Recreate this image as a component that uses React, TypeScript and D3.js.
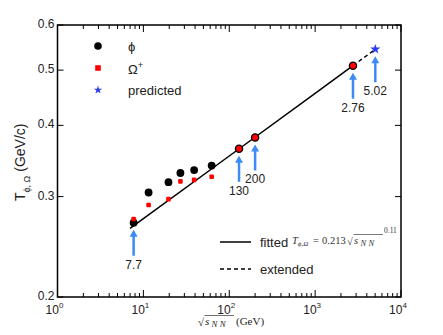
import * as d3 from 'd3';

const energies = [7.7, 11.5, 19.6, 27, 39, 62.4];
const phiT = [0.270, 0.305, 0.318, 0.330, 0.334, 0.340];
const omegaT = [0.274, 0.290, 0.297, 0.319, 0.321, 0.325];
const predE = [130, 200, 2760];
const predT = [0.364, 0.381, 0.509];
const starE = 5020;
const starT = 0.544;
const arrowE = [7.7, 130, 200, 2760, 5020];
const arrowT = [0.270, 0.364, 0.381, 0.509, 0.544];
const arrowLbl = ['7.7', '130', '200', '2.76', '5.02'];
const yTicks = [0.2, 0.3, 0.4, 0.5, 0.6];
const xTicks = [1, 10, 100, 1000, 10000];
const fitA = 0.213;
const fitB = 0.11;
const fitStart = 7.0;
const fitEnd = 2760;

const W = 443, H = 335;
const L = 57.5, R = 401, T = 25, B = 297;
const SANS = '"Liberation Sans", Arial, sans-serif';
const SERIF = '"Liberation Serif", "DejaVu Serif", serif';
const BLUE = '#3d8af7';

// √ s_NN written with a radical and an overline
function SqrtS({ x0, base, size, color }: { x0: number; base: number; size: number; color: string }) {
  const sub = size * 0.8;
  return (
    <g fill={color}>
      <text x={x0} y={base + 1} fontSize={size}>√</text>
      <line x1={x0 + 6.5} x2={x0 + 36} y1={base - 9.5} y2={base - 9.5} stroke={color} strokeWidth={0.65} />
      <text x={x0 + 7} y={base} fontSize={size} fontStyle="italic">s</text>
      <text x={x0 + 13.5} y={base + 2} fontSize={sub} fontStyle="italic" letterSpacing={2.5}>NN</text>
    </g>
  );
}

export default function App() {
  const x = d3.scaleLog().domain([1, 10000]).range([L, R]);
  const y = d3.scaleLog().domain([0.2, 0.6]).range([B, T]);
  const fit = (e: number) => fitA * Math.pow(e, fitB);
  const line = d3.line<number>().x(e => x(e)).y(e => y(fit(e)));

  const minor: number[] = [];
  for (let d = 1; d < 10000; d *= 10) for (let k = 2; k <= 9; k++) minor.push(d * k);

  const star = d3.symbol().type(d3.symbolStar).size(32)();
  const smallStar = d3.symbol().type(d3.symbolStar).size(22)();
  const arrowLen = 26;

  return (
    <svg width={W} height={H} style={{ position: 'absolute', left: 0, top: 0, background: '#fff' }}>
      {/* frame */}
      <rect x={L} y={T} width={R - L} height={B - T} fill="none" stroke="#000" strokeWidth={1.5} />
      {/* x ticks */}
      {xTicks.map(v => (
        <g key={'xt' + v}>
          <line x1={x(v)} x2={x(v)} y1={B} y2={B - 7} stroke="#000" />
          <line x1={x(v)} x2={x(v)} y1={T} y2={T + 7} stroke="#000" />
          <text x={x(v) - 3} y={B + 17} fontFamily={SANS} fontSize={12} textAnchor="middle" fill="#222">
            10<tspan dy={-6} fontSize={8}>{Math.round(Math.log10(v))}</tspan>
          </text>
        </g>
      ))}
      {minor.map(v => (
        <g key={'xm' + v}>
          <line x1={x(v)} x2={x(v)} y1={B} y2={B - 4} stroke="#000" />
          <line x1={x(v)} x2={x(v)} y1={T} y2={T + 4} stroke="#000" />
        </g>
      ))}
      {/* y ticks */}
      {yTicks.map(v => (
        <g key={'yt' + v}>
          <line x1={L} x2={L + 6} y1={y(v)} y2={y(v)} stroke="#000" />
          <line x1={R} x2={R - 6} y1={y(v)} y2={y(v)} stroke="#000" />
          <text x={L - 3} y={y(v) + 3} fontFamily={SANS} fontSize={12} textAnchor="end" fill="#222">{v.toFixed(1)}</text>
        </g>
      ))}
      {/* axis titles */}
      <text transform={`translate(25,${(T + B) / 2 + 40}) rotate(-90)`} fontFamily={SANS} fontSize={14} fill="#222">
        T<tspan dy={5} fontSize={9}>ϕ, Ω</tspan><tspan dy={-5}> (GeV/c)</tspan>
      </text>
      <g fontFamily={SERIF}>
        <SqrtS x0={198} base={325} size={11} color="#222" />
        <text x={236} y={325} fontSize={11} fill="#222">(GeV)</text>
      </g>
      {/* fit line */}
      <path d={line([fitStart, 10, 100, 1000, fitEnd]) || ''} fill="none" stroke="#000" strokeWidth={1.5} />
      <path d={line([fitEnd, starE]) || ''} fill="none" stroke="#000" strokeWidth={1.5} strokeDasharray="4,3" />
      {/* data */}
      {energies.map((e, i) => (
        <g key={'d' + e}>
          <circle cx={x(e)} cy={y(phiT[i])} r={3.9} fill="#000" />
          <rect x={x(e) - 2.3} y={y(omegaT[i]) - 2.3} width={4.6} height={4.6} rx={1} fill="#f00" />
        </g>
      ))}
      {predE.map((e, i) => (
        <circle key={'p' + e} cx={x(e)} cy={y(predT[i])} r={3.6} fill="#f00" stroke="#000" strokeWidth={1.3} />
      ))}
      <path d={star || ''} transform={`translate(${x(starE)},${y(starT)})`} fill="#2a3cf0" />
      {/* arrows */}
      {arrowE.map((e, i) => {
        const cx = x(e);
        const tip = y(arrowT[i]) + 7;
        return (
          <g key={'a' + e}>
            <line x1={cx} x2={cx} y1={tip + 5} y2={tip + arrowLen} stroke={BLUE} strokeWidth={2.5} />
            <path d={`M${cx},${tip} L${cx - 4},${tip + 7} L${cx + 4},${tip + 7} Z`} fill={BLUE} />
            <text x={cx} y={tip + arrowLen + 13} fontFamily={SANS} fontSize={12} textAnchor="middle" fill="#222">{arrowLbl[i]}</text>
          </g>
        );
      })}
      {/* top legend */}
      <g fontFamily={SANS} fontSize={13} fill="#222">
        <circle cx={98} cy={46} r={3.8} fill="#000" />
        <text x={128} y={51}>ϕ</text>
        <rect x={95.2} y={65.2} width={5.6} height={5.6} fill="#f00" />
        <text x={128} y={74}>Ω<tspan dy={-6} fontSize={9}>+</tspan></text>
        <path d={smallStar || ''} transform="translate(98,90)" fill="#2a3cf0" />
        <text x={128} y={95}>predicted</text>
      </g>
      {/* bottom legend */}
      <g fontFamily={SANS} fontSize={13} fill="#222">
        <line x1={220} x2={251} y1={242} y2={242} stroke="#000" strokeWidth={1.5} />
        <text x={260} y={247}>fitted</text>
        <line x1={220} x2={251} y1={269} y2={269} stroke="#000" strokeWidth={1.5} strokeDasharray="4,3" />
        <text x={260} y={274}>extended</text>
      </g>
      <g fontFamily={SERIF} fontSize={10.5} fill="#333">
        <text x={292} y={244} fontStyle="italic">T<tspan dy={2} fontSize={7}>ϕ,Ω</tspan></text>
        <text x={313} y={244}>=</text>
        <text x={322} y={244}>0.213</text>
        <SqrtS x0={347} base={244} size={10.5} color="#333" />
        <text x={384} y={233} fontSize={7.5}>0.11</text>
      </g>
    </svg>
  );
}
